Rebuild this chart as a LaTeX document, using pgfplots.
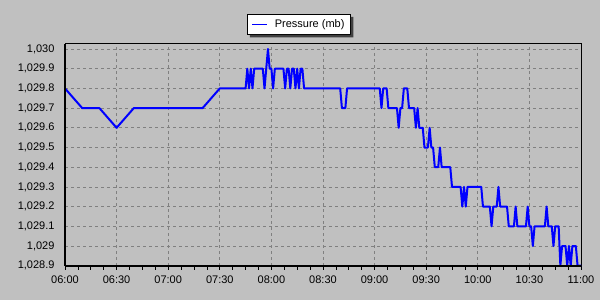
\documentclass[border=0pt]{standalone}
\usepackage{fontspec}
\setmainfont{Liberation Sans}
\usepackage{pgfplots}
\pgfplotsset{compat=1.18}
\definecolor{panelgray}{RGB}{192,192,192}
\definecolor{gridgray}{RGB}{128,128,128}
\definecolor{lineblue}{RGB}{0,0,255}
\begin{document}
\begin{tikzpicture}
\fill[panelgray] (-65bp,-34.3bp) rectangle (535bp,265.7bp);
\useasboundingbox (-65bp,-34.3bp) rectangle (535bp,265.7bp);
\begin{axis}[
  at={(0,0)}, anchor=south west,
  scale only axis, width=516bp, height=221.7bp,
  xmin=0, xmax=300, ymin=1028.9, ymax=1030.0254,
  clip=false,
  axis line style={black, line width=1bp},
  grid=major,
  major grid style={dash pattern=on 3bp off 3bp, gridgray, line width=0.8bp},
  xtick={0,30,...,300},
  xticklabels={06:00,06:30,07:00,07:30,08:00,08:30,09:00,09:30,10:00,10:30,11:00},
  minor x tick num=3,
  xtick pos=bottom, ytick pos=left,
  tick align=outside,
  major tick length=4bp, minor tick length=4bp,
  xtick style={black, line width=0.8bp},
  ytick={1028.9,1029,1029.1,1029.2,1029.3,1029.4,1029.5,1029.6,1029.7,1029.8,1029.9,1030},
  yticklabels={{1,028.9},{1,029},{1,029.1},{1,029.2},{1,029.3},{1,029.4},{1,029.5},{1,029.6},{1,029.7},{1,029.8},{1,029.9},{1,030}},
  ytick style={draw=none},
  tick label style={font=\fontsize{11bp}{13bp}\selectfont},
  xticklabel style={yshift=-3bp},
  yticklabel style={xshift=-3bp},
  legend style={name=leg, at={(axis description cs:0.4539,1.0871)}, anchor=center,
    draw=black, line width=1bp, fill=white,
    font=\fontsize{11bp}{13bp}\selectfont,
    inner xsep=4bp, inner ysep=3bp},
  legend image code/.code={\draw[lineblue, line width=1bp] (0bp,0bp) -- (15bp,0bp); \path (19.4bp,0bp);},
  after end axis/.code={
    \draw[black, line width=2bp] (rel axis cs:0,0) -- (rel axis cs:1,0);
    \draw[black, line width=2bp] (rel axis cs:0,0) -- (rel axis cs:0,1);
  },
]
\addplot[lineblue, line width=2bp, line join=round] table {
x y
0 1029.8
10 1029.7
20 1029.7
30 1029.6
40 1029.7
50 1029.7
60 1029.7
70 1029.7
80 1029.7
90 1029.8
100 1029.8
105 1029.8
106 1029.9
107 1029.8
108 1029.9
109 1029.8
110 1029.9
115 1029.9
116 1029.8
117 1029.9
118 1030.0
119 1029.9
120 1029.9
121 1029.8
122 1029.9
127 1029.9
128 1029.8
129 1029.9
130 1029.9
131 1029.8
132 1029.9
133 1029.9
134 1029.8
135 1029.9
136 1029.8
137 1029.9
138 1029.9
139 1029.8
160 1029.8
161 1029.7
163 1029.7
164 1029.8
183 1029.8
184 1029.7
185 1029.8
187 1029.8
188 1029.7
193 1029.7
194 1029.6
195 1029.7
196 1029.7
197 1029.8
199 1029.8
200 1029.7
203 1029.7
204 1029.6
205 1029.7
206 1029.6
208 1029.6
209 1029.5
211 1029.5
212 1029.6
213 1029.5
214 1029.5
215 1029.4
217 1029.4
218 1029.5
219 1029.4
224 1029.4
225 1029.3
230 1029.3
231 1029.2
232 1029.3
233 1029.2
234 1029.3
242 1029.3
243 1029.2
247 1029.2
248 1029.1
249 1029.2
251 1029.2
252 1029.3
253 1029.2
257 1029.2
258 1029.1
261 1029.1
262 1029.2
263 1029.1
268 1029.1
269 1029.2
270 1029.1
271 1029.1
272 1029.0
273 1029.1
279 1029.1
280 1029.2
281 1029.1
283 1029.1
284 1029.0
285 1029.1
287 1029.1
288 1028.9
289 1029.0
291 1029.0
292 1028.9
293 1029.0
294 1028.9
295 1029.0
297 1029.0
298 1028.9
300 1028.9
};
\addlegendentry{Pressure (mb)}
\end{axis}
\fill[black!75] ([yshift=-2.5bp]leg.north east) -- ([xshift=2.5bp,yshift=-2.5bp]leg.north east)
  -- ([xshift=2.5bp,yshift=-2.5bp]leg.south east) -- ([xshift=2.5bp,yshift=-2.5bp]leg.south west)
  -- ([xshift=2.5bp]leg.south west) -- (leg.south east) -- cycle;
\end{tikzpicture}
\end{document}
